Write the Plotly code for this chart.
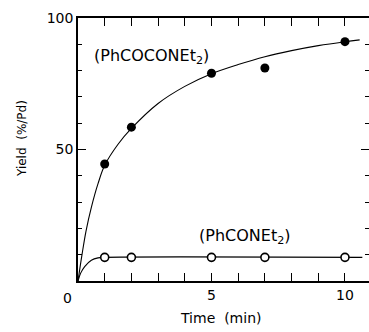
import plotly.graph_objects as go

# Data points
time_pts = [1, 2, 5, 7, 10]
yield_phcoconet2 = [44.5, 58.5, 79, 81, 91]
yield_phconet2 = [9, 9, 9, 9, 9]

# Fitted curves
curve1_t = [0, 0.15, 0.3, 0.5, 0.75, 1, 1.5, 2, 3, 4, 5, 6, 7, 8, 9, 10, 10.55]
curve1_y = [0, 10, 19, 28, 37, 44, 52, 58, 67.5, 74, 78.8, 82.3, 85.3, 87.6, 89.5, 91, 91.7]
curve2_t = [0, 0.1, 0.25, 0.5, 0.75, 1, 10.65]
curve2_y = [0, 3, 5.5, 7.9, 8.8, 9, 9]

font = "DejaVu Sans"
W, H = 369, 332
L, R, T, B = 78, 0, 18, 51
PW, PH = W - L - R, H - T - B


def px2paper(x, y):
    return (x - L) / PW, (H - B - y) / PH


fig = go.Figure()
fig.add_trace(go.Scatter(x=curve1_t, y=curve1_y, mode="lines", line=dict(color="black", width=1.1, shape="spline"), hoverinfo="skip"))
fig.add_trace(go.Scatter(x=curve2_t, y=curve2_y, mode="lines", line=dict(color="black", width=1.1, shape="spline"), hoverinfo="skip"))
fig.add_trace(go.Scatter(x=time_pts, y=yield_phcoconet2, mode="markers", marker=dict(color="black", size=9)))
fig.add_trace(go.Scatter(x=time_pts, y=yield_phconet2, mode="markers", marker=dict(color="white", size=8, line=dict(color="black", width=1.6))))
# invisible trace to anchor the right-hand tick axis
fig.add_trace(go.Scatter(x=[0], y=[0], yaxis="y2", mode="markers", marker=dict(opacity=0), hoverinfo="skip"))

tickfont = dict(family=font, size=14, color="black")
fig.update_layout(
    width=W, height=H, margin=dict(l=L, r=R, t=T, b=B),
    paper_bgcolor="white", plot_bgcolor="white", showlegend=False,
    xaxis=dict(range=[0, 10.9], tickvals=[5, 10], ticktext=["5", "10"],
               showgrid=False, zeroline=False, showline=True, linecolor="black", linewidth=1.5,
               ticks="inside", tickcolor="black", tickwidth=1.3, ticklen=8, mirror="allticks",
               tickfont=tickfont,
               minor=dict(dtick=1, ticks="inside", ticklen=4, tickcolor="black", tickwidth=1.1)),
    yaxis=dict(range=[0, 100], tickvals=[50, 100], ticktext=["50", "100"],
               showgrid=False, zeroline=False, showline=True, linecolor="black", linewidth=1.5,
               ticks="inside", tickcolor="black", tickwidth=1.3, ticklen=8,
               tickfont=tickfont,
               minor=dict(dtick=10, ticks="inside", ticklen=4, tickcolor="black", tickwidth=1.1)),
    yaxis2=dict(range=[0, 100], overlaying="y", side="right", tickvals=[50, 100], showticklabels=False,
                showgrid=False, zeroline=False, showline=False,
                ticks="inside", tickcolor="black", tickwidth=1.3, ticklen=8,
                minor=dict(dtick=10, ticks="inside", ticklen=4, tickcolor="black", tickwidth=1.1)),
)

ann_font = dict(family=font, color="black")
labels = [
    ("0", 67, 298, 14, 0),
    ("Time  (min)", 221, 318, 14, 0),
    ("Yield  (%/Pd)", 22, 139, 12, -90),
    ("(PhCOCONEt<sub>2</sub>)", 151, 56, 16, 0),
    ("(PhCONEt<sub>2</sub>)", 245, 236, 16, 0),
]
for text, px, py, size, ang in labels:
    ax, ay = px2paper(px, py)
    fig.add_annotation(text=text, x=ax, y=ay, xref="paper", yref="paper", showarrow=False,
                       xanchor="center", yanchor="middle", textangle=ang,
                       font=dict(size=size, **ann_font))

fig.write_html("out.html")
